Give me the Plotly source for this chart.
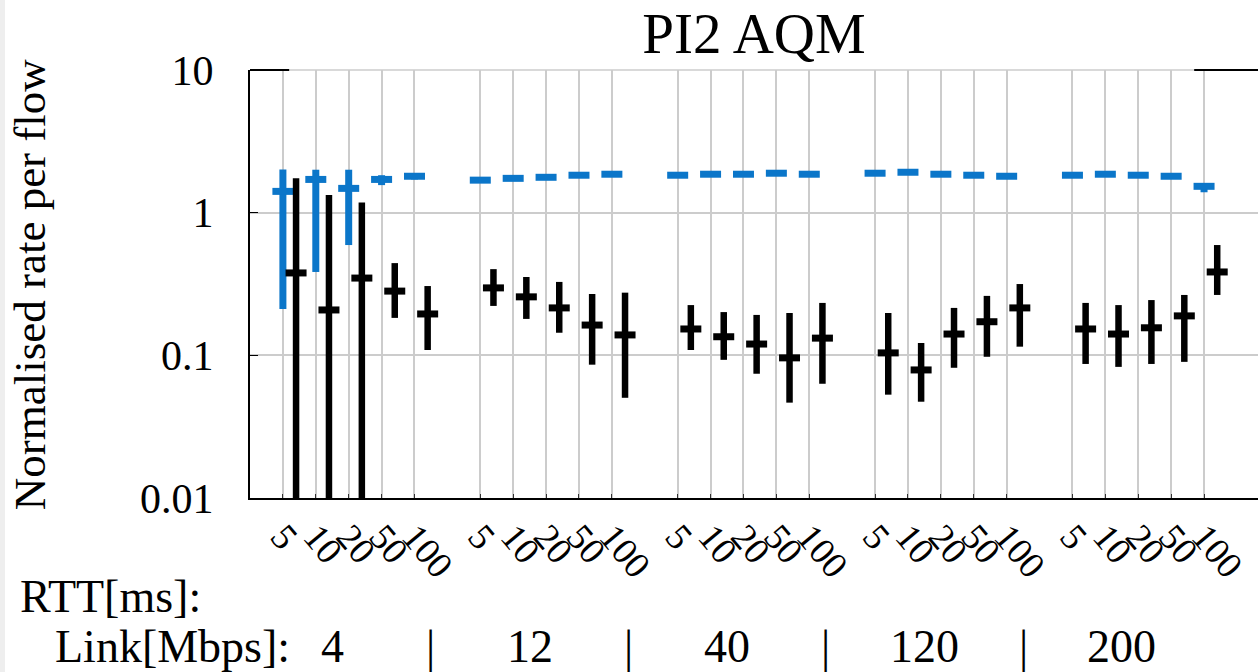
import plotly.graph_objects as go

# ---------------- data ----------------
link_labels = ["4", "12", "40", "120", "200"]
rtt_labels = ["5", "10", "20", "50", "100"]

# blue series (median, low, high) per (link, rtt), in order
blue_med = [1.41, 1.71, 1.48, 1.71, 1.80,
            1.69, 1.74, 1.77, 1.83, 1.86,
            1.83, 1.86, 1.86, 1.89, 1.86,
            1.89, 1.92, 1.86, 1.83, 1.80,
            1.83, 1.86, 1.83, 1.80, 1.53]
blue_lo = [0.211, 0.384, 0.593, 1.56, 1.71,
           1.66, 1.71, 1.74, 1.80, 1.80,
           1.80, 1.83, 1.83, 1.86, 1.83,
           1.86, 1.89, 1.83, 1.80, 1.77,
           1.80, 1.83, 1.80, 1.77, 1.39]
blue_hi = [2.01, 2.00, 2.00, 1.83, 1.86,
           1.72, 1.77, 1.80, 1.86, 1.89,
           1.86, 1.89, 1.89, 1.92, 1.89,
           1.92, 1.95, 1.89, 1.86, 1.83,
           1.86, 1.89, 1.86, 1.83, 1.61]

# black series (median, low, high)
black_med = [0.378, 0.208, 0.348, 0.282, 0.195,
             0.297, 0.257, 0.215, 0.163, 0.139,
             0.153, 0.135, 0.120, 0.096, 0.132,
             0.104, 0.079, 0.141, 0.172, 0.215,
             0.153, 0.141, 0.156, 0.189, 0.384]
black_lo = [0.002, 0.002, 0.002, 0.183, 0.109,
            0.222, 0.180, 0.144, 0.086, 0.0504,
            0.109, 0.093, 0.0743, 0.0466, 0.0632,
            0.053, 0.0473, 0.0818, 0.0977, 0.115,
            0.087, 0.083, 0.087, 0.090, 0.265]
black_hi = [1.74, 1.33, 1.18, 0.443, 0.306,
            0.402, 0.354, 0.327, 0.269, 0.275,
            0.225, 0.201, 0.192, 0.198, 0.233,
            0.198, 0.122, 0.215, 0.261, 0.316,
            0.233, 0.225, 0.244, 0.265, 0.593]

y_tickvals = [0.01, 0.1, 1, 10]
y_ticktext = ["0.01", "0.1", "1", "10"]

# ---------------- layout helpers ----------------
n_rtt = len(rtt_labels)
slots = []
for g in range(len(link_labels)):
    for i in range(n_rtt):
        slots.append(1 + g * (n_rtt + 1) + i)
black_x = [s + 0.4 for s in slots]
tick_text = rtt_labels * len(link_labels)

FONT = "Liberation Serif, Times New Roman, Times, serif"
BLUE = "#0b76c9"
XMAX = 30.64

fig = go.Figure()

def add_series(xs, med, lo, hi, color, thick):
    fig.add_trace(go.Scatter(
        x=xs, y=med, mode="markers",
        marker=dict(symbol="line-ew", size=15, color=color,
                    line=dict(color=color, width=7)),
        error_y=dict(type="data", symmetric=False,
                     array=[h - m for h, m in zip(hi, med)],
                     arrayminus=[m - l for m, l in zip(med, lo)],
                     color=color, thickness=thick, width=0),
        showlegend=False, hoverinfo="skip"))

add_series(slots, blue_med, blue_lo, blue_hi, BLUE, 7)
add_series(black_x, black_med, black_lo, black_hi, "black", 6.5)

fig.update_layout(
    width=1258, height=672,
    margin=dict(l=250, r=0, t=70, b=174),
    paper_bgcolor="white", plot_bgcolor="white",
    font=dict(family=FONT, color="black"),
    title=dict(text="PI2 AQM", x=0.5, xref="paper", xanchor="center",
               y=1 - 33 / 672, yref="container", yanchor="middle",
               font=dict(family=FONT, size=57, color="black")),
    xaxis=dict(range=[0, XMAX], tickmode="array", tickvals=slots,
               ticktext=tick_text, tickangle=50,
               tickfont=dict(family=FONT, size=37),
               showgrid=True, gridcolor="#cccccc", gridwidth=1.5,
               zeroline=False, showline=True, linecolor="black", linewidth=2,
               ticks="inside", ticklen=4, tickcolor="#333333"),
    yaxis=dict(type="log", range=[-2, 1], tickmode="array",
               tickvals=y_tickvals, ticktext=y_ticktext,
               tickfont=dict(family=FONT, size=42),
               showgrid=True, gridcolor="#cccccc", gridwidth=1.5,
               zeroline=False, showline=True, linecolor="black", linewidth=2,
               ticks="inside", ticklen=8, tickcolor="black",
               ticklabelstandoff=26),
)

# top border: gray line with black end pieces
fig.add_shape(type="line", xref="x", yref="paper", x0=0, x1=XMAX, y0=1, y1=1,
              line=dict(color="#cccccc", width=1.5))
fig.add_shape(type="line", xref="x", yref="paper", x0=0, x1=1.19, y0=1, y1=1,
              line=dict(color="black", width=2))
fig.add_shape(type="line", xref="x", yref="paper", x0=28.7, x1=XMAX, y0=1, y1=1,
              line=dict(color="black", width=2))
# faint strip on the far left edge
fig.add_shape(type="rect", xref="paper", yref="paper", x0=-250 / 1008, x1=-245 / 1008,
              y0=-174 / 428, y1=(428 + 70) / 428, fillcolor="#eeeeee",
              line=dict(width=0), layer="below")

# y-axis title
fig.add_annotation(text="Normalised rate per flow", xref="paper", yref="paper",
                   x=-0.218, y=0.5, textangle=-90, showarrow=False,
                   xanchor="center", yanchor="middle",
                   font=dict(family=FONT, size=45, color="black"))

# bottom labels
fig.add_annotation(text="RTT[ms]:", xref="paper", yref="paper",
                   x=-0.2302, y=-0.231, showarrow=False,
                   xanchor="left", yanchor="middle",
                   font=dict(family=FONT, size=46, color="black"))
fig.add_annotation(text="Link[Mbps]:", xref="paper", yref="paper",
                   x=-0.1954, y=-0.348, showarrow=False,
                   xanchor="left", yanchor="middle",
                   font=dict(family=FONT, size=46, color="black"))
for g, lab in enumerate(link_labels):
    gx = slots[g * n_rtt] + 1.5
    fig.add_annotation(text=lab, xref="x", yref="paper", x=gx, y=-0.348,
                       showarrow=False, xanchor="center", yanchor="middle",
                       font=dict(family=FONT, size=46, color="black"))
    if g < len(link_labels) - 1:
        fig.add_annotation(text="|", xref="x", yref="paper",
                           x=slots[g * n_rtt + n_rtt - 1] + 0.5,
                           y=-0.348, showarrow=False,
                           xanchor="center", yanchor="middle",
                           font=dict(family=FONT, size=46, color="black"))

fig.write_html("out.html",
               config={"displayModeBar": False},
               post_script="document.body.style.margin='0';"
                           "document.body.style.overflow='hidden';")
